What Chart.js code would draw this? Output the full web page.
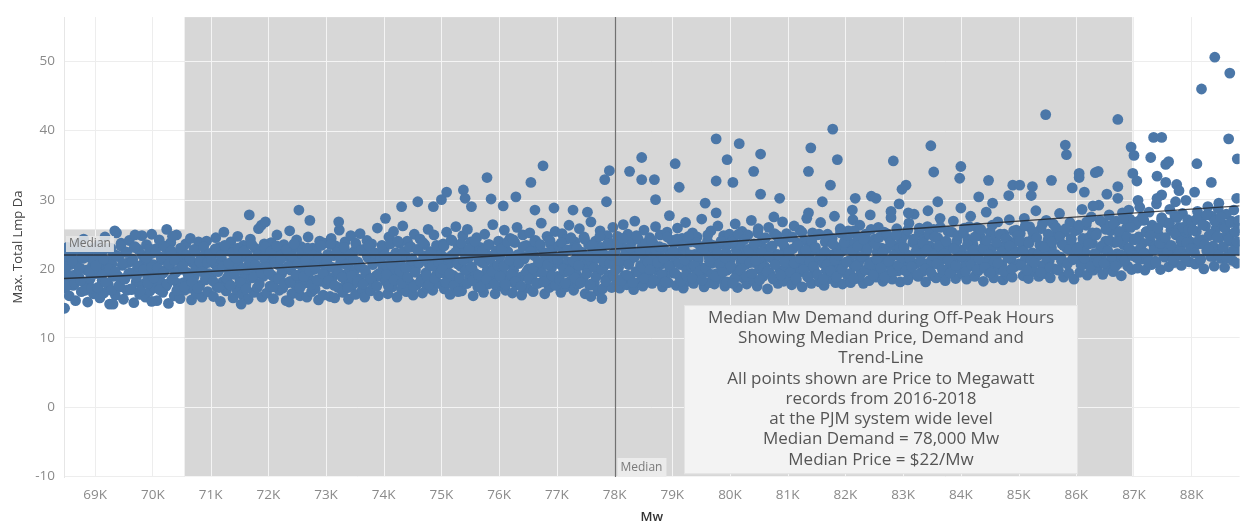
<!DOCTYPE html>
<html>
<head>
<meta charset="utf-8">
<script src="https://cdn.jsdelivr.net/npm/chart.js@4.4.1/dist/chart.umd.min.js"></script>
<style>
  html, body { margin: 0; padding: 0; background: #ffffff; }
  #wrap { width: 1245px; height: 524px; }
</style>
</head>
<body>
<div id="wrap"><canvas id="c" width="1245" height="524"></canvas></div>
<script>
// ---------------- DATA (Mw in thousands, Max. Total Lmp Da in $) ----------------
const recs68_70 = [
[68.47,17.2],[68.49,19.5],[68.5,21.6],[68.52,23.1],[68.53,18.4],[68.55,16.1],[68.57,20.6],[68.6,22.4],[68.62,17.6],[68.64,19.1],[68.66,15.4],[68.68,21.2],[68.7,23.6],[68.72,18.8],[68.74,20.1],[68.76,16.7],[68.78,22.0],[68.8,24.3],[68.82,17.9],[68.85,19.8],[68.87,15.2],[68.89,21.7],[68.91,18.5],[68.93,23.0],[68.95,20.4],[68.97,16.4],[68.99,22.8],
[69.01,19.3],[69.03,21.5],[69.04,17.1],[69.06,23.4],[69.08,15.8],[69.1,20.2],[69.12,18.3],[69.13,22.6],[69.15,16.5],[69.17,24.6],[69.19,19.7],[69.21,21.1],[69.23,17.7],[69.25,14.9],[69.27,23.0],[69.29,20.7],[69.31,18.9],[69.33,22.1],[69.35,16.2],[69.37,25.2],[69.39,19.0],[69.41,21.8],[69.43,17.4],[69.45,23.7],[69.47,20.5],[69.49,15.6],[69.51,18.6],[69.53,22.4],[69.55,16.9],[69.57,20.9],[69.59,24.1],[69.61,19.4],[69.63,17.0],[69.65,21.4],[69.67,15.1],[69.69,23.2],[69.71,18.1],[69.73,20.0],[69.75,22.8],[69.77,16.3],[69.79,19.6],[69.81,24.8],[69.83,17.8],[69.85,21.0],[69.87,15.9],[69.89,23.5],[69.91,18.7],[69.93,20.8],[69.95,16.8],[69.97,22.2],[69.99,19.2]
];
const recs70_72 = [
[70.01,20.6],[70.03,17.3],[70.05,22.9],[70.07,15.4],[70.09,19.1],[70.11,24.2],[70.13,18.2],[70.15,21.3],[70.17,16.6],[70.19,23.3],[70.21,19.8],[70.23,17.5],[70.25,21.9],[70.27,15.0],[70.29,20.3],[70.31,23.8],[70.33,18.5],[70.35,22.2],[70.37,16.1],[70.39,19.4],[70.41,24.9],[70.43,17.9],[70.45,21.6],[70.47,15.7],[70.49,20.0],[70.51,22.7],[70.53,18.0],[70.55,16.9],[70.57,23.6],[70.59,19.5],[70.61,21.2],[70.63,17.2],[70.65,24.4],[70.67,15.5],[70.69,20.9],[70.71,18.8],[70.73,22.5],[70.75,16.4],[70.77,19.9],[70.79,23.9],[70.81,17.6],[70.83,21.5],[70.85,15.9],[70.87,20.4],[70.89,22.0],[70.91,18.4],[70.93,24.0],[70.95,16.7],[70.97,19.3],[70.99,21.8],
[71.01,18.6],[71.03,22.3],[71.05,16.0],[71.07,20.7],[71.09,24.5],[71.11,17.4],[71.13,19.6],[71.15,23.1],[71.17,15.3],[71.19,21.4],[71.21,18.1],[71.23,25.3],[71.25,20.2],[71.27,16.8],[71.29,22.6],[71.31,19.0],[71.33,17.7],[71.35,23.9],[71.37,21.0],[71.39,15.8],[71.41,19.8],[71.43,22.9],[71.45,17.0],[71.47,24.7],[71.49,20.5],[71.51,18.3],[71.53,21.7],[71.55,16.3],[71.57,23.4],[71.59,19.2],[71.61,17.8],[71.63,22.1],[71.65,15.6],[71.67,20.8],[71.69,24.3],[71.71,18.7],[71.73,21.3],[71.75,16.6],[71.77,23.0],[71.79,19.5],[71.81,17.3],[71.83,25.8],[71.85,20.1],[71.87,22.4],[71.89,15.9],[71.91,18.9],[71.93,23.6],[71.95,21.1],[71.97,16.5],[71.99,19.7]
];
const recs72_74 = [
[72.01,21.2],[72.03,17.5],[72.05,23.8],[72.07,19.0],[72.09,15.7],[72.11,22.0],[72.13,18.4],[72.15,24.9],[72.17,20.6],[72.19,16.9],[72.21,22.7],[72.23,19.3],[72.25,17.2],[72.27,23.5],[72.29,20.0],[72.31,15.4],[72.33,21.8],[72.35,18.0],[72.37,25.5],[72.39,19.8],[72.41,16.4],[72.43,22.9],[72.45,20.9],[72.47,17.7],[72.49,24.2],[72.51,18.8],[72.53,21.5],[72.55,16.1],[72.57,23.2],[72.59,19.5],[72.61,17.9],[72.63,22.3],[72.65,20.3],[72.67,15.9],[72.69,24.6],[72.71,18.6],[72.73,21.0],[72.75,16.7],[72.77,23.0],[72.79,19.9],[72.81,17.1],[72.83,22.5],[72.85,20.7],[72.87,15.5],[72.89,24.0],[72.91,18.2],[72.93,21.4],[72.95,16.2],[72.97,23.7],[72.99,19.6],
[73.01,17.8],[73.03,22.1],[73.05,20.4],[73.07,16.0],[73.09,24.4],[73.11,18.7],[73.13,21.9],[73.15,15.8],[73.17,23.3],[73.19,19.4],[73.21,17.3],[73.23,25.6],[73.25,20.8],[73.27,22.6],[73.29,16.6],[73.31,19.1],[73.33,23.9],[73.35,18.1],[73.37,21.3],[73.39,15.6],[73.41,20.0],[73.43,24.8],[73.45,17.6],[73.47,22.4],[73.49,19.7],[73.51,16.3],[73.53,23.1],[73.55,21.0],[73.57,18.5],[73.59,25.1],[73.61,20.2],[73.63,17.0],[73.65,22.8],[73.67,15.9],[73.69,19.3],[73.71,24.1],[73.73,21.6],[73.75,18.3],[73.77,16.8],[73.79,23.6],[73.81,20.6],[73.83,17.5],[73.85,22.2],[73.87,19.0],[73.89,25.9],[73.91,16.1],[73.93,21.1],[73.95,18.9],[73.97,23.4],[73.99,20.1]
];
const recs74_76 = [
[74.01,22.9],[74.03,18.2],[74.05,20.5],[74.07,16.4],[74.09,24.6],[74.11,19.2],[74.13,21.7],[74.15,17.4],[74.17,25.4],[74.19,20.0],[74.21,22.3],[74.23,15.9],[74.25,18.8],[74.27,23.7],[74.29,21.1],[74.31,17.0],[74.33,26.2],[74.35,19.6],[74.37,22.0],[74.39,16.7],[74.41,24.0],[74.43,20.3],[74.45,18.0],[74.47,23.2],[74.49,21.5],[74.51,16.2],[74.53,25.0],[74.55,19.9],[74.57,17.7],[74.59,22.7],[74.61,20.8],[74.63,24.3],[74.65,18.5],[74.67,16.5],[74.69,21.9],[74.71,23.5],[74.73,19.4],[74.75,17.2],[74.77,25.7],[74.79,20.6],[74.81,22.5],[74.83,18.4],[74.85,16.9],[74.87,24.9],[74.89,21.2],[74.91,19.1],[74.93,23.0],[74.95,17.9],[74.97,20.2],[74.99,22.1],
[75.01,19.5],[75.03,23.6],[75.05,17.1],[75.07,21.4],[75.09,25.3],[75.11,18.6],[75.13,20.7],[75.15,16.3],[75.17,24.2],[75.19,22.0],[75.21,19.0],[75.23,17.6],[75.25,26.1],[75.27,21.0],[75.29,23.3],[75.31,18.2],[75.33,20.4],[75.35,16.8],[75.37,24.8],[75.39,22.4],[75.41,19.8],[75.43,17.9],[75.45,25.7],[75.47,21.6],[75.49,18.9],[75.51,23.9],[75.53,20.1],[75.55,16.1],[75.57,22.8],[75.59,19.3],[75.61,24.5],[75.63,17.4],[75.65,21.2],[75.67,23.1],[75.69,18.0],[75.71,20.9],[75.73,16.6],[75.75,25.0],[75.77,22.2],[75.79,19.7],[75.81,17.8],[75.83,23.5],[75.85,21.8],[75.87,18.5],[75.89,26.4],[75.91,20.3],[75.93,16.4],[75.95,22.6],[75.97,19.1],[75.99,24.0]
];
const recs76_78 = [
[76.01,21.7],[76.03,17.5],[76.05,23.0],[76.07,19.4],[76.09,25.6],[76.11,16.9],[76.13,20.6],[76.15,22.5],[76.17,18.3],[76.19,24.4],[76.21,21.1],[76.23,16.5],[76.25,19.8],[76.27,23.8],[76.29,17.7],[76.31,26.0],[76.33,20.8],[76.35,22.1],[76.37,18.8],[76.39,16.2],[76.41,24.9],[76.43,21.4],[76.45,19.2],[76.47,23.4],[76.49,17.2],[76.51,20.0],[76.53,25.2],[76.55,22.7],[76.57,18.6],[76.59,16.7],[76.61,21.9],[76.63,24.1],[76.65,19.6],[76.67,17.9],[76.69,23.2],[76.71,20.4],[76.73,26.6],[76.75,18.1],[76.77,22.3],[76.79,16.4],[76.81,21.3],[76.83,24.7],[76.85,19.0],[76.87,17.3],[76.89,23.6],[76.91,20.2],[76.93,22.9],[76.95,18.4],[76.97,25.4],[76.99,21.6],
[77.01,18.9],[77.03,23.3],[77.05,20.7],[77.07,16.6],[77.09,25.1],[77.11,22.2],[77.13,19.5],[77.15,17.4],[77.17,24.3],[77.19,21.0],[77.21,26.3],[77.23,18.2],[77.25,22.8],[77.27,20.1],[77.29,16.9],[77.31,23.9],[77.33,19.3],[77.35,21.8],[77.37,17.8],[77.39,25.8],[77.41,20.5],[77.43,22.4],[77.45,18.6],[77.47,24.6],[77.49,16.4],[77.51,21.3],[77.53,19.9],[77.55,23.5],[77.57,17.6],[77.59,26.8],[77.61,20.9],[77.63,22.6],[77.65,18.0],[77.67,24.0],[77.69,21.5],[77.71,16.8],[77.73,19.7],[77.75,25.5],[77.77,23.1],[77.79,17.1],[77.81,20.3],[77.83,22.0],[77.85,18.5],[77.87,24.8],[77.89,21.2],[77.91,19.1],[77.93,23.7],[77.95,17.3],[77.97,26.0],[77.99,20.6]
];
const recs78_80 = [
[78.01,22.5],[78.03,18.4],[78.05,24.7],[78.07,20.2],[78.09,17.2],[78.11,23.4],[78.13,21.1],[78.15,26.4],[78.17,19.0],[78.19,22.9],[78.21,17.7],[78.23,25.0],[78.25,20.8],[78.27,18.7],[78.29,23.8],[78.31,21.6],[78.33,17.0],[78.35,26.9],[78.37,19.6],[78.39,22.2],[78.41,24.3],[78.43,18.1],[78.45,20.5],[78.47,23.1],[78.49,17.5],[78.51,25.6],[78.53,21.4],[78.55,19.3],[78.57,22.7],[78.59,18.9],[78.61,24.5],[78.63,20.0],[78.65,17.9],[78.67,23.6],[78.69,21.9],[78.71,26.1],[78.73,19.8],[78.75,18.3],[78.77,22.4],[78.79,24.9],[78.81,20.7],[78.83,17.4],[78.85,23.0],[78.87,21.2],[78.89,19.2],[78.91,25.3],[78.93,18.0],[78.95,22.0],[78.97,20.4],[78.99,24.1],
[79.01,19.4],[79.03,23.7],[79.05,21.0],[79.07,17.6],[79.09,25.9],[79.11,22.3],[79.13,18.8],[79.15,20.6],[79.17,24.4],[79.19,17.2],[79.21,22.8],[79.23,26.7],[79.25,19.9],[79.27,21.5],[79.29,18.2],[79.31,23.9],[79.33,20.3],[79.35,25.2],[79.37,17.9],[79.39,22.1],[79.41,19.1],[79.43,24.6],[79.45,21.3],[79.47,18.5],[79.49,23.2],[79.51,27.2],[79.53,20.1],[79.55,17.4],[79.57,22.6],[79.59,19.6],[79.61,24.0],[79.63,21.8],[79.65,18.0],[79.67,25.5],[79.69,20.8],[79.71,23.4],[79.73,17.8],[79.75,22.0],[79.77,19.3],[79.79,26.2],[79.81,21.1],[79.83,18.6],[79.85,23.6],[79.87,20.4],[79.89,24.8],[79.91,17.5],[79.93,22.4],[79.95,19.8],[79.97,21.7],[79.99,25.0]
];
const recs80_82 = [
[80.01,21.4],[80.03,18.1],[80.05,24.2],[80.07,20.0],[80.09,26.5],[80.11,22.7],[80.13,17.3],[80.15,19.5],[80.17,23.5],[80.19,21.0],[80.21,25.4],[80.23,18.7],[80.25,22.2],[80.27,20.6],[80.29,17.8],[80.31,24.9],[80.33,21.8],[80.35,19.2],[80.37,27.0],[80.39,23.0],[80.41,18.3],[80.43,20.9],[80.45,22.5],[80.47,17.5],[80.49,25.8],[80.51,19.9],[80.53,23.8],[80.55,21.2],[80.57,18.9],[80.59,24.4],[80.61,20.3],[80.63,22.9],[80.65,17.1],[80.67,26.0],[80.69,19.4],[80.71,21.6],[80.73,23.3],[80.75,18.5],[80.77,25.1],[80.79,20.7],[80.81,22.1],[80.83,17.9],[80.85,24.0],[80.87,19.7],[80.89,21.9],[80.91,26.8],[80.93,18.2],[80.95,23.1],[80.97,20.2],[80.99,22.6],
[81.01,19.0],[81.03,24.6],[81.05,21.5],[81.07,17.7],[81.09,22.9],[81.11,26.2],[81.13,20.1],[81.15,18.4],[81.17,23.7],[81.19,21.1],[81.21,25.6],[81.23,19.6],[81.25,17.4],[81.27,22.4],[81.29,24.1],[81.31,20.5],[81.33,27.3],[81.35,18.8],[81.37,21.8],[81.39,23.4],[81.41,17.9],[81.43,25.2],[81.45,20.0],[81.47,22.7],[81.49,19.3],[81.51,24.9],[81.53,21.3],[81.55,18.1],[81.57,26.7],[81.59,22.2],[81.61,20.8],[81.63,17.6],[81.65,23.9],[81.67,19.8],[81.69,25.0],[81.71,21.6],[81.73,18.6],[81.75,22.0],[81.77,24.4],[81.79,20.3],[81.81,27.6],[81.83,18.0],[81.85,23.1],[81.87,21.0],[81.89,19.5],[81.91,25.8],[81.93,22.5],[81.95,17.8],[81.97,20.7],[81.99,24.0]
];
const recs82_84 = [
[82.01,22.8],[82.03,19.1],[82.05,25.5],[82.07,21.2],[82.09,18.0],[82.11,23.6],[82.13,27.1],[82.15,20.4],[82.17,22.1],[82.19,18.6],[82.21,24.7],[82.23,20.9],[82.25,26.3],[82.27,19.4],[82.29,23.2],[82.31,17.9],[82.33,21.7],[82.35,25.0],[82.37,22.6],[82.39,19.9],[82.41,18.3],[82.43,27.8],[82.45,23.9],[82.47,21.0],[82.49,20.1],[82.51,24.3],[82.53,18.8],[82.55,22.4],[82.57,26.0],[82.59,19.6],[82.61,21.5],[82.63,23.0],[82.65,18.2],[82.67,25.3],[82.69,20.6],[82.71,22.9],[82.73,19.2],[82.75,24.5],[82.77,21.3],[82.79,27.4],[82.81,18.5],[82.83,23.4],[82.85,20.2],[82.87,22.0],[82.89,25.8],[82.91,19.7],[82.93,21.9],[82.95,18.1],[82.97,24.1],[82.99,20.8],
[83.01,20.3],[83.03,24.9],[83.06,22.1],[83.08,18.4],[83.1,26.6],[83.12,21.4],[83.15,19.2],[83.17,23.8],[83.19,27.9],[83.21,20.7],[83.24,22.8],[83.26,18.9],[83.28,25.2],[83.3,21.9],[83.33,19.6],[83.35,24.2],[83.37,22.4],[83.39,18.1],[83.42,26.1],[83.44,20.5],[83.46,23.3],[83.48,21.1],[83.51,19.0],[83.53,25.7],[83.55,22.6],[83.57,18.7],[83.6,24.5],[83.62,20.9],[83.64,27.3],[83.66,21.7],[83.69,19.4],[83.71,23.6],[83.73,18.3],[83.75,22.0],[83.78,25.4],[83.8,20.2],[83.82,23.1],[83.84,19.8],[83.87,26.9],[83.89,21.3],[83.91,18.6],[83.93,24.0],[83.96,22.3],[83.98,20.0]
];
const recs84_86 = [
[84.01,22.7],[84.03,19.3],[84.06,25.9],[84.08,21.0],[84.1,18.5],[84.12,24.3],[84.15,22.0],[84.17,27.6],[84.19,20.4],[84.21,23.5],[84.24,18.9],[84.26,21.6],[84.28,26.0],[84.3,19.7],[84.33,24.8],[84.35,22.5],[84.37,20.8],[84.39,18.2],[84.42,23.9],[84.44,28.2],[84.46,21.2],[84.48,19.5],[84.51,25.3],[84.53,22.9],[84.55,20.1],[84.57,18.7],[84.6,24.6],[84.62,21.8],[84.64,26.8],[84.66,19.9],[84.69,23.2],[84.71,20.6],[84.73,18.4],[84.75,25.0],[84.78,22.2],[84.8,19.1],[84.82,24.1],[84.84,27.1],[84.87,21.4],[84.89,18.8],[84.91,23.7],[84.93,20.3],[84.96,25.6],[84.98,22.4],
[85.01,20.7],[85.03,25.1],[85.06,22.8],[85.08,19.0],[85.1,27.3],[85.12,21.5],[85.15,23.9],[85.17,18.6],[85.19,26.1],[85.21,20.2],[85.24,22.3],[85.26,24.7],[85.28,19.6],[85.3,28.4],[85.33,21.9],[85.35,18.9],[85.37,23.4],[85.39,25.8],[85.42,20.5],[85.44,22.6],[85.46,19.3],[85.48,27.0],[85.51,24.2],[85.53,21.1],[85.55,18.7],[85.57,23.0],[85.6,26.5],[85.62,20.0],[85.64,22.1],[85.66,24.9],[85.69,19.8],[85.71,28.0],[85.73,21.7],[85.75,23.6],[85.78,18.8],[85.8,25.4],[85.82,20.9],[85.84,22.9],[85.87,19.4],[85.89,26.7],[85.91,24.4],[85.93,21.3],[85.96,18.5],[85.98,23.1]
];
const recs86_89 = [
[86.01,21.8],[86.03,25.7],[86.06,19.5],[86.08,23.3],[86.1,28.6],[86.12,20.6],[86.15,22.4],[86.17,26.3],[86.19,19.1],[86.21,24.5],[86.24,21.0],[86.26,27.5],[86.28,23.7],[86.3,19.8],[86.33,22.0],[86.35,25.2],[86.37,20.3],[86.39,29.2],[86.42,23.0],[86.44,21.5],[86.46,19.2],[86.48,26.6],[86.51,24.0],[86.53,22.7],[86.55,20.0],[86.57,27.8],[86.6,25.5],[86.62,21.2],[86.64,19.6],[86.66,23.8],[86.69,26.9],[86.71,22.2],[86.73,20.8],[86.75,24.8],[86.78,19.0],[86.8,28.1],[86.82,23.5],[86.84,21.6],[86.87,25.9],[86.89,20.4],[86.91,22.9],[86.93,27.2],[86.96,19.9],[86.98,24.3],
[87.01,22.5],[87.03,26.4],[87.06,20.1],[87.08,24.6],[87.1,28.9],[87.12,21.4],[87.15,23.7],[87.17,27.0],[87.19,19.8],[87.21,25.3],[87.24,22.0],[87.26,28.2],[87.28,24.0],[87.3,20.6],[87.33,26.1],[87.35,23.2],[87.37,21.1],[87.39,29.4],[87.42,25.0],[87.44,22.8],[87.46,19.9],[87.48,27.4],[87.51,24.3],[87.53,21.7],[87.55,26.7],[87.57,23.5],[87.6,20.3],[87.62,28.6],[87.64,25.6],[87.66,22.3],[87.69,20.9],[87.71,27.7],[87.73,24.9],[87.75,21.9],[87.78,26.0],[87.8,23.0],[87.82,20.5],[87.84,28.0],[87.87,25.2],[87.89,22.1],[87.91,24.7],[87.93,27.1],[87.96,21.0],[87.98,23.9],
[88.01,26.8],[88.03,22.9],[88.06,20.7],[88.08,25.4],[88.1,28.3],[88.12,23.6],[88.15,21.3],[88.17,27.3],[88.19,24.2],[88.21,20.0],[88.24,26.2],[88.26,22.6],[88.28,29.0],[88.3,24.8],[88.33,21.8],[88.35,27.6],[88.37,23.3],[88.39,20.4],[88.42,25.8],[88.44,22.4],[88.46,28.7],[88.48,24.5],[88.51,21.5],[88.53,26.5],[88.55,23.1],[88.57,20.2],[88.6,27.9],[88.62,25.1],[88.64,22.0],[88.66,24.0],[88.69,26.9],[88.71,21.2],[88.73,28.5],[88.75,23.8],[88.78,20.8],[88.8,25.9],[88.82,22.7]
];
// denser middle of the cloud
const core68_72 = [
[68.48,20.3],[68.51,17.5],[68.54,22.2],[68.58,19.0],[68.61,21.0],[68.65,17.9],[68.69,22.9],[68.72,20.0],[68.75,18.3],[68.79,21.5],[68.83,16.9],[68.86,22.5],[68.9,19.6],[68.94,17.2],[68.97,21.2],
[69.015,20.5],[69.045,17.3],[69.08,22.7],[69.115,19.1],[69.145,21.4],[69.18,18.0],[69.215,23.0],[69.245,20.0],[69.28,16.9],[69.315,22.1],[69.345,19.6],[69.38,21.8],[69.415,17.6],[69.445,23.3],[69.48,20.8],[69.515,18.5],[69.545,22.4],[69.58,19.3],[69.615,17.1],[69.645,21.1],[69.68,23.1],[69.715,18.8],[69.745,20.4],[69.78,16.8],[69.815,22.0],[69.845,19.9],[69.88,21.6],[69.915,17.9],[69.945,22.9],[69.98,20.2],
[70.015,18.7],[70.045,22.4],[70.08,20.1],[70.115,17.0],[70.145,21.7],[70.18,19.4],[70.215,23.1],[70.245,17.8],[70.28,20.7],[70.315,22.6],[70.345,18.4],[70.38,21.2],[70.415,16.9],[70.445,19.8],[70.48,23.0],[70.515,20.4],[70.545,17.4],[70.58,22.0],[70.615,19.0],[70.645,21.5],[70.68,18.1],[70.715,22.8],[70.745,20.0],[70.78,17.2],[70.815,21.0],[70.845,19.6],[70.88,23.2],[70.915,18.6],[70.945,20.9],[70.98,22.2],
[71.015,21.3],[71.045,18.2],[71.08,22.9],[71.115,19.7],[71.145,17.3],[71.18,21.9],[71.215,20.3],[71.245,23.4],[71.28,18.6],[71.315,20.8],[71.345,17.6],[71.38,22.3],[71.415,19.2],[71.445,21.5],[71.48,23.0],[71.515,18.0],[71.545,20.0],[71.58,22.6],[71.615,17.1],[71.645,19.9],[71.68,21.1],[71.715,23.5],[71.745,18.8],[71.78,20.6],[71.815,22.0],[71.845,17.8],[71.88,19.4],[71.915,21.7],[71.945,23.2],[71.98,20.2]
];
const core72_76 = [
[72.015,19.5],[72.045,22.5],[72.08,17.4],[72.115,20.9],[72.145,23.3],[72.18,18.5],[72.215,21.4],[72.245,19.9],[72.28,17.9],[72.315,22.8],[72.345,20.4],[72.38,18.2],[72.415,21.8],[72.445,23.6],[72.48,19.1],[72.515,20.7],[72.545,17.2],[72.58,22.2],[72.615,18.9],[72.645,21.2],[72.68,23.0],[72.715,19.7],[72.745,17.7],[72.78,22.0],[72.815,20.1],[72.845,18.4],[72.88,21.6],[72.915,23.4],[72.945,19.3],[72.98,20.6],
[73.015,21.0],[73.045,18.3],[73.08,23.5],[73.115,20.2],[73.145,17.6],[73.18,22.4],[73.215,19.5],[73.245,21.7],[73.28,18.8],[73.315,23.1],[73.345,20.6],[73.38,17.3],[73.415,22.0],[73.445,19.0],[73.48,21.3],[73.515,23.7],[73.545,18.1],[73.58,20.5],[73.615,22.7],[73.645,17.8],[73.68,19.8],[73.715,21.9],[73.745,23.3],[73.78,18.6],[73.815,20.9],[73.845,22.3],[73.88,17.5],[73.915,19.3],[73.945,21.5],[73.98,23.0],
[74.015,22.0],[74.045,19.2],[74.08,17.5],[74.115,23.6],[74.145,20.6],[74.18,18.4],[74.215,21.8],[74.245,24.0],[74.28,19.7],[74.315,17.9],[74.345,22.5],[74.38,20.1],[74.415,18.8],[74.445,23.1],[74.48,21.2],[74.515,17.4],[74.545,19.5],[74.58,22.8],[74.615,20.9],[74.645,18.1],[74.68,23.8],[74.715,21.5],[74.745,19.0],[74.78,17.7],[74.815,22.2],[74.845,20.4],[74.88,18.6],[74.915,23.4],[74.945,21.0],[74.98,19.4],
[75.015,20.0],[75.045,23.3],[75.08,18.0],[75.115,21.6],[75.145,19.3],[75.18,24.1],[75.215,17.6],[75.245,22.4],[75.28,20.7],[75.315,18.7],[75.345,23.7],[75.38,21.2],[75.415,19.8],[75.445,17.9],[75.48,22.9],[75.515,20.3],[75.545,18.3],[75.58,24.0],[75.615,21.9],[75.645,19.1],[75.68,17.4],[75.715,22.6],[75.745,20.9],[75.78,18.5],[75.815,23.5],[75.845,21.4],[75.88,19.6],[75.915,17.8],[75.945,22.1],[75.98,20.5]
];
const core76_80 = [
[76.015,18.9],[76.045,22.8],[76.08,20.4],[76.115,17.7],[76.145,23.9],[76.18,21.3],[76.215,19.2],[76.245,24.2],[76.28,18.2],[76.315,22.0],[76.345,20.8],[76.38,17.5],[76.415,23.2],[76.445,21.7],[76.48,19.6],[76.515,18.5],[76.545,22.5],[76.58,20.1],[76.615,24.0],[76.645,17.9],[76.68,21.0],[76.715,23.5],[76.745,19.4],[76.78,18.1],[76.815,22.3],[76.845,20.6],[76.88,24.1],[76.915,19.0],[76.945,21.5],[76.98,17.6],
[77.015,21.4],[77.045,18.4],[77.08,23.8],[77.115,20.0],[77.145,17.9],[77.18,22.7],[77.215,19.6],[77.245,24.5],[77.28,21.1],[77.315,18.7],[77.345,23.0],[77.38,20.5],[77.415,18.0],[77.445,22.2],[77.48,24.3],[77.515,19.3],[77.545,21.8],[77.58,17.8],[77.615,23.4],[77.645,20.2],[77.68,18.9],[77.715,22.5],[77.745,24.7],[77.78,19.9],[77.815,21.0],[77.845,18.2],[77.88,23.6],[77.915,20.8],[77.945,22.0],[77.98,19.0],
[78.015,19.8],[78.045,23.5],[78.08,21.2],[78.115,18.3],[78.145,24.4],[78.18,22.0],[78.215,19.1],[78.245,20.6],[78.28,23.0],[78.315,18.0],[78.345,21.7],[78.38,24.8],[78.415,19.5],[78.445,22.4],[78.48,20.2],[78.515,18.6],[78.545,23.7],[78.58,21.0],[78.615,19.9],[78.645,24.1],[78.68,18.4],[78.715,22.7],[78.745,20.9],[78.78,23.2],[78.815,19.2],[78.845,21.5],[78.88,18.1],[78.915,24.6],[78.945,20.4],[78.98,22.2],
[79.015,22.6],[79.045,19.4],[79.08,24.3],[79.115,20.8],[79.145,18.2],[79.18,23.4],[79.215,21.3],[79.245,19.0],[79.28,24.7],[79.315,22.0],[79.345,18.7],[79.38,20.5],[79.415,23.8],[79.445,21.8],[79.48,19.7],[79.515,18.4],[79.545,22.9],[79.58,20.1],[79.615,24.9],[79.645,21.1],[79.68,19.2],[79.715,23.1],[79.745,18.9],[79.78,22.3],[79.815,20.7],[79.845,24.0],[79.88,19.5],[79.915,21.6],[79.945,18.1],[79.98,23.6]
];
const core80_84 = [
[80.015,20.4],[80.045,23.9],[80.08,18.6],[80.115,22.1],[80.145,25.0],[80.18,19.8],[80.215,21.5],[80.245,24.2],[80.28,18.9],[80.315,22.8],[80.345,20.9],[80.38,19.3],[80.415,23.6],[80.445,21.2],[80.48,25.2],[80.515,18.4],[80.545,22.4],[80.58,20.1],[80.615,24.5],[80.645,19.6],[80.68,21.8],[80.715,23.2],[80.745,18.7],[80.78,20.6],[80.815,24.8],[80.845,22.0],[80.88,19.1],[80.915,23.7],[80.945,21.0],[80.98,25.1],
[81.015,22.3],[81.045,19.5],[81.08,24.6],[81.115,20.8],[81.145,18.7],[81.18,23.4],[81.215,21.5],[81.245,25.3],[81.28,19.9],[81.315,22.7],[81.345,18.9],[81.38,21.0],[81.415,24.0],[81.445,20.3],[81.48,23.1],[81.515,19.2],[81.545,25.0],[81.58,21.9],[81.615,18.5],[81.645,22.5],[81.68,20.6],[81.715,24.3],[81.745,19.7],[81.78,23.6],[81.815,21.3],[81.845,18.8],[81.88,22.0],[81.915,25.2],[81.945,20.0],[81.98,23.8],
[82.015,21.0],[82.045,24.8],[82.08,19.3],[82.115,22.6],[82.145,25.5],[82.18,20.4],[82.215,23.3],[82.245,18.9],[82.28,21.8],[82.315,24.2],[82.345,19.8],[82.38,22.9],[82.415,20.7],[82.445,25.7],[82.48,19.1],[82.515,23.6],[82.545,21.4],[82.58,24.5],[82.615,20.1],[82.645,22.3],[82.68,18.8],[82.715,25.1],[82.745,21.1],[82.78,23.9],[82.815,19.6],[82.845,22.0],[82.88,24.9],[82.915,20.5],[82.945,23.0],[82.98,21.6],
[83.015,23.1],[83.045,19.7],[83.08,25.6],[83.115,21.5],[83.145,20.3],[83.18,24.3],[83.215,22.4],[83.245,19.2],[83.28,25.9],[83.315,21.0],[83.345,23.7],[83.38,20.0],[83.415,22.8],[83.445,25.0],[83.48,19.5],[83.515,21.9],[83.545,24.6],[83.58,20.7],[83.615,23.3],[83.645,26.0],[83.68,19.9],[83.715,22.2],[83.745,24.0],[83.78,21.2],[83.815,19.4],[83.845,25.3],[83.88,22.9],[83.915,20.5],[83.945,24.8],[83.98,21.7]
];
const core84_89 = [
[84.015,21.8],[84.045,25.2],[84.08,19.6],[84.115,23.5],[84.145,26.1],[84.18,20.6],[84.215,22.7],[84.245,24.6],[84.28,19.9],[84.315,21.4],[84.345,25.7],[84.38,23.0],[84.415,20.2],[84.445,24.1],[84.48,22.1],[84.515,19.4],[84.545,26.3],[84.58,21.0],[84.615,23.8],[84.645,20.8],[84.68,25.0],[84.715,22.5],[84.745,19.7],[84.78,24.4],[84.815,21.6],[84.845,23.3],[84.88,20.0],[84.915,25.5],[84.945,22.3],[84.98,24.8],
[85.015,24.0],[85.045,20.5],[85.08,22.6],[85.115,26.2],[85.145,19.8],[85.18,23.7],[85.215,21.3],[85.245,25.4],[85.28,20.9],[85.315,24.5],[85.345,22.2],[85.38,19.5],[85.415,26.5],[85.445,23.1],[85.48,21.7],[85.515,25.0],[85.545,20.2],[85.58,23.9],[85.615,22.0],[85.645,26.0],[85.68,19.9],[85.715,24.7],[85.745,21.1],[85.78,23.4],[85.815,25.8],[85.845,20.7],[85.88,22.8],[85.915,24.2],[85.945,21.5],[85.98,25.5],
[86.015,22.9],[86.045,26.3],[86.08,20.6],[86.115,24.4],[86.145,21.5],[86.18,26.8],[86.215,23.6],[86.245,20.3],[86.28,25.2],[86.315,22.2],[86.345,24.9],[86.38,21.0],[86.415,27.0],[86.445,23.3],[86.48,20.8],[86.515,25.7],[86.545,22.6],[86.58,24.1],[86.615,21.8],[86.645,26.5],[86.68,20.4],[86.715,23.9],[86.745,25.4],[86.78,22.0],[86.815,27.2],[86.845,21.3],[86.88,24.6],[86.915,23.0],[86.945,26.0],[86.98,21.9],
[87.015,24.2],[87.045,21.6],[87.08,26.9],[87.115,23.0],[87.145,27.5],[87.18,22.3],[87.215,25.4],[87.245,21.0],[87.28,24.8],[87.315,26.3],[87.345,22.7],[87.38,20.9],[87.415,25.9],[87.445,23.7],[87.48,27.1],[87.515,21.9],[87.545,24.5],[87.58,22.5],[87.615,26.6],[87.645,23.4],[87.68,21.3],[87.715,25.1],[87.745,27.4],[87.78,22.1],[87.815,24.0],[87.845,26.0],[87.88,21.7],[87.915,23.8],[87.945,25.6],[87.98,22.9],
[88.015,25.6],[88.05,22.3],[88.085,27.2],[88.12,24.1],[88.155,21.4],[88.19,26.4],[88.225,23.5],[88.26,27.8],[88.295,22.8],[88.33,25.0],[88.365,21.8],[88.4,26.9],[88.435,24.6],[88.47,22.0],[88.505,27.5],[88.54,23.2],[88.575,25.9],[88.61,21.6],[88.645,24.3],[88.68,26.7],[88.715,22.6],[88.75,25.3],[88.785,23.9],[88.815,27.0]
];
const highRecs = [
[69.34,25.5],[69.69,24.9],[69.98,25.0],[70.24,25.7],[70.34,24.7],
[71.67,27.8],[71.88,26.3],[71.95,26.8],[72.53,28.5],[72.72,27.0],[73.22,26.8],[74.03,27.3],[74.31,29.0],[74.59,29.7],[74.86,29.0],[75.0,30.0],[75.09,31.1],[75.38,31.4],[75.41,30.2],[75.52,29.0],[75.79,33.2],[75.86,30.1],[76.07,29.1],[76.29,30.4],[76.55,32.5],[76.76,34.9],[76.62,28.5],[76.95,28.8],[77.28,28.5],[77.53,28.2],[77.83,32.9],[77.91,34.2],[77.86,29.7],[78.26,34.1],[78.47,36.1],[78.47,32.9],[78.69,32.9],[78.71,30.0],[79.05,35.2],[78.95,27.7],
[79.12,31.8],[79.57,29.5],[79.76,28.1],[79.76,38.8],[80.16,38.1],[79.95,35.8],[80.53,36.6],[80.41,34.1],[79.76,32.7],[80.05,32.5],[80.53,30.8],[80.86,30.2],[80.76,27.5],
[81.78,40.2],[81.40,37.5],[81.36,34.1],[81.86,35.8],[81.74,32.1],[81.60,29.7],[81.36,28.1],
[82.83,35.6],[83.48,37.8],[83.53,34.0],[83.05,32.1],[82.98,31.5],[82.45,30.5],[82.53,30.2],[82.17,30.2],[82.12,28.5],[82.93,29.4],[82.79,28.3],[83.09,28.1],[83.43,28.4],[83.60,29.7],
[84.0,34.8],[83.98,33.1],[84.0,28.8],[84.48,32.8],[84.31,30.4],[84.55,29.5],[84.90,32.1],[85.02,32.1],[84.83,30.6],[85.24,31.9],[85.22,30.6],[85.57,32.8],[85.47,42.3],[85.81,37.9],[85.83,36.5],[86.05,33.8],[86.05,33.2],[85.93,31.7],[86.14,31.1],[86.33,33.9],[86.38,34.1],[86.29,29.1],[86.53,30.8],[86.72,31.9],[86.72,30.2],[86.72,41.6],[86.95,37.6],[87.0,36.4],[86.98,33.8],[87.05,32.7],[86.91,28.5],
[87.34,39.0],[87.48,39.0],[87.29,36.1],[87.55,35.1],[87.60,35.5],[87.40,33.4],[87.55,32.5],[87.74,32.2],[87.78,31.3],[87.48,30.7],[87.40,30.2],[87.72,29.7],[87.07,29.9],[87.90,29.9],
[88.05,31.1],[88.09,35.2],[88.17,46.0],[88.34,32.5],[88.40,50.6],[88.66,48.3],[88.64,38.8],[88.79,35.9],[88.78,30.2],[88.47,29.5]
];
const lowRecs = [
[68.47,14.3],[69.31,14.9],[69.98,15.3],[71.53,14.9],[72.36,15.2],[75.29,16.7],[77.59,16.0],[77.78,15.7],[80.05,17.9],[82.14,18.6]
];

// trend line read at a few places along the picture
const trendMw  = [68.46, 70.47, 74.78, 79.09, 86.33, 88.83];
const trendLmp = [18.6, 19.4, 21.3, 23.4, 27.7, 29.1];

// reference lines / bands
const medianMw  = 78.0;
const medianLmp = 22.0;
const bandMw  = [70.55, 86.97];
const bandLmp = [20.3, 25.7];

// axis ranges and tick steps
const xRange = [68.46, 88.83];
const yRange = [-10.1, 56.4];
const xTickStep = 1;
const yTickStep = 10;

const noteLines = [
  'Median Mw Demand during Off-Peak Hours',
  'Showing Median Price, Demand and',
  'Trend-Line',
  'All points shown are Price to Megawatt',
  'records from 2016-2018',
  'at the PJM system wide level',
  'Median Demand = 78,000 Mw',
  'Median Price = $22/Mw'
];
const medianLabel = 'Median';

// ---------------- BUILD ----------------
const allRecs = [].concat(recs68_70, recs70_72, recs72_74, recs74_76, recs76_78,
  recs78_80, recs80_82, recs82_84, recs84_86, recs86_89,
  core68_72, core72_76, core76_80, core80_84, core84_89, highRecs, lowRecs);
const scatterData = allRecs.map(r => ({x: r[0], y: r[1]}));
const trendData = trendMw.map((m, i) => ({x: m, y: trendLmp[i]}));

const FONT = '"Open Sans", "DejaVu Sans", sans-serif';

const bandsPlugin = {
  id: 'bands',
  beforeDatasetsDraw(chart) {
    const {ctx, chartArea: a, scales: {x, y}} = chart;
    const x0 = x.getPixelForValue(bandMw[0]), x1 = x.getPixelForValue(bandMw[1]);
    const y0 = y.getPixelForValue(bandLmp[1]), y1 = y.getPixelForValue(bandLmp[0]);
    ctx.save();
    ctx.fillStyle = '#d7d7d7';
    ctx.fillRect(x0, a.top, x1 - x0, a.bottom - a.top);
    ctx.fillRect(a.left, y0, a.right - a.left, y1 - y0);
    ctx.beginPath();
    ctx.rect(x0, a.top, x1 - x0, a.bottom - a.top);
    ctx.rect(a.left, y0, a.right - a.left, y1 - y0);
    ctx.clip();
    ctx.strokeStyle = '#f4f4f4';
    ctx.lineWidth = 1;
    ctx.beginPath();
    x.ticks.forEach(t => {
      const px = Math.round(x.getPixelForValue(t.value)) + 0.5;
      ctx.moveTo(px, a.top); ctx.lineTo(px, a.bottom);
    });
    y.ticks.forEach(t => {
      const py = Math.round(y.getPixelForValue(t.value)) + 0.5;
      ctx.moveTo(a.left, py); ctx.lineTo(a.right, py);
    });
    ctx.stroke();
    ctx.restore();
  },
  afterDatasetsDraw(chart) {
    const {ctx, chartArea: a, scales: {x, y}} = chart;
    ctx.save();
    ctx.beginPath();
    ctx.rect(a.left, a.top, a.right - a.left, a.bottom - a.top);
    ctx.clip();
    const mx = Math.round(x.getPixelForValue(medianMw)) + 0.5;
    ctx.strokeStyle = 'rgba(105,105,105,0.95)';
    ctx.lineWidth = 1.2;
    ctx.beginPath(); ctx.moveTo(mx, a.top); ctx.lineTo(mx, a.bottom); ctx.stroke();
    const my = y.getPixelForValue(medianLmp);
    ctx.strokeStyle = 'rgba(35,40,48,0.85)';
    ctx.lineWidth = 1.5;
    ctx.beginPath(); ctx.moveTo(a.left, my); ctx.lineTo(a.right, my); ctx.stroke();

    ctx.font = '12px ' + FONT;
    ctx.textBaseline = 'middle';
    ctx.textAlign = 'left';
    const lw = ctx.measureText(medianLabel).width;
    ctx.fillStyle = 'rgba(232,232,232,0.85)';
    ctx.fillRect(a.left + 2, my - 19, lw + 6, 16);
    ctx.fillStyle = '#6f6f6f';
    ctx.fillText(medianLabel, a.left + 5, my - 11);
    ctx.fillStyle = 'rgba(236,236,236,0.95)';
    ctx.fillRect(mx + 2, a.bottom - 19, lw + 7, 19);
    ctx.fillStyle = '#7a7a7a';
    ctx.fillText(medianLabel, mx + 5, a.bottom - 9);

    const bx = a.left + 620, by = a.top + 288, bw = 394, bh = 169;
    ctx.fillStyle = '#f3f3f3';
    ctx.fillRect(bx, by, bw, bh);
    ctx.strokeStyle = '#e4e4e4';
    ctx.lineWidth = 1;
    ctx.strokeRect(bx + 0.5, by + 0.5, bw - 1, bh - 1);
    let fs = 16;
    ctx.font = fs + 'px ' + FONT;
    const w0 = ctx.measureText(noteLines[0]).width;
    fs = Math.min(17, fs * 347 / w0);
    ctx.font = fs + 'px ' + FONT;
    ctx.fillStyle = '#555555';
    ctx.textAlign = 'center';
    const cx = bx + bw / 2;
    noteLines.forEach((t, i) => {
      ctx.fillText(t, cx, by + 13 + i * 20.25);
    });
    ctx.restore();
  }
};

new Chart(document.getElementById('c'), {
  type: 'scatter',
  data: {
    datasets: [
      {
        type: 'line',
        data: trendData,
        borderColor: 'rgba(30,34,40,0.8)',
        borderWidth: 1.4,
        pointRadius: 0,
        fill: false,
        cubicInterpolationMode: 'monotone',
        clip: 0,
        order: 0
      },
      {
        data: scatterData,
        backgroundColor: '#4b77a8',
        borderWidth: 0,
        pointRadius: 5.4,
        pointHoverRadius: 5.4,
        clip: 0,
        order: 1
      }
    ]
  },
  options: {
    responsive: false,
    animation: false,
    events: [],
    layout: {padding: {top: 11, left: 0, right: 0, bottom: 0}},
    plugins: {legend: {display: false}, tooltip: {enabled: false}},
    scales: {
      x: {
        type: 'linear',
        min: xRange[0], max: xRange[1],
        ticks: {
          stepSize: xTickStep, includeBounds: false, autoSkip: false, maxRotation: 0,
          callback: v => v + 'K',
          color: '#8a8a8a', font: {family: FONT, size: 13.5}, padding: 10
        },
        grid: {color: '#ededed', drawTicks: false, lineWidth: 1},
        border: {display: false},
        title: {display: true, text: 'Mw', color: '#333333', font: {family: FONT, size: 13, weight: '600', lineHeight: 1}, padding: {top: 0, bottom: 0}},
        afterFit(s) { s.height = 47; }
      },
      y: {
        min: yRange[0], max: yRange[1],
        ticks: {
          stepSize: yTickStep, includeBounds: false,
          color: '#8a8a8a', font: {family: FONT, size: 13.5}, padding: 9
        },
        grid: {color: '#ededed', drawTicks: false, lineWidth: 1},
        border: {display: true, color: '#e6e6e6'},
        title: {display: true, text: 'Max. Total Lmp Da', color: '#444444', font: {family: FONT, size: 13, lineHeight: 1.2}, padding: {top: 10, bottom: 0}},
        afterFit(s) { s.width = 64; }
      }
    }
  },
  plugins: [bandsPlugin]
});
</script>
</body>
</html>
